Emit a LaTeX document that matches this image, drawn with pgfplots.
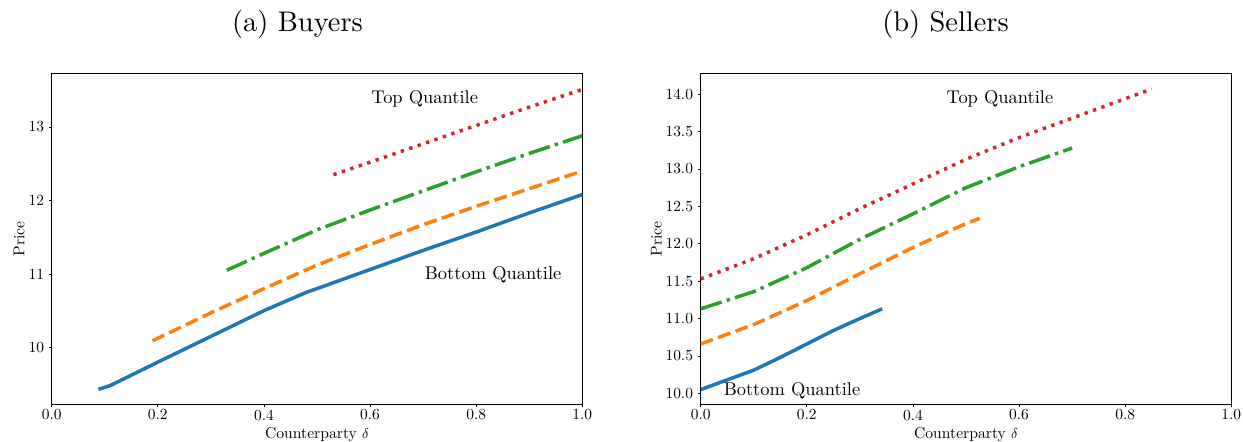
\documentclass[border=0pt]{standalone}
\DeclareFontFamily{TU}{lmrten}{}
\DeclareFontShape{TU}{lmrten}{m}{n}{<-> "[lmroman10-regular]:mapping=tex-text"}{}
\renewcommand{\rmdefault}{lmrten}
\usepackage{pgfplots}
\pgfplotsset{compat=1.18}
\definecolor{tabblue}{HTML}{1F77B4}
\definecolor{taborange}{HTML}{FF7F0E}
\definecolor{tabgreen}{HTML}{2CA02C}
\definecolor{tabred}{HTML}{D62728}
\newcommand{\tickfont}{\fontsize{15.5}{16}\selectfont}
\newcommand{\labfont}{\fontsize{15.7}{16}\selectfont}
\newcommand{\annfont}{\fontsize{18.5}{19}\selectfont}
\newcommand{\titlefont}{\fontsize{28.5}{30}\selectfont}
\pgfplotsset{
  mystyle/.style={
    scale only axis, width=530.6bp, height=330.7bp,
    anchor=south west,
    xmin=0, xmax=1, xtick={0,0.2,0.4,0.6,0.8,1},
    /pgf/number format/assume math mode=true,
    xticklabel style={/pgf/number format/fixed, /pgf/number format/fixed zerofill, /pgf/number format/precision=1},
    tick pos=left,
    tick align=outside, major tick length=2.5bp,
    axis line style={line width=1bp, black},
    tick style={line width=0.8bp, black},
    tick label style={font=\tickfont},
    label style={font=\labfont},
    xlabel={Counterparty $\delta$},
    ylabel={Price},
    xlabel style={at={(axis description cs:0.5,0)}, anchor=base, yshift=-34bp},
    xticklabel style={inner sep=0pt, anchor=north, yshift=-3bp},
    yticklabel style={inner sep=0pt, anchor=east, xshift=-5bp},
    every axis plot/.append style={no markers, line width=3.5bp, line join=round},
  },
  sol/.style={tabblue, solid},
  dsh/.style={taborange, dash pattern=on 13bp off 5.5bp},
  dd/.style={tabgreen, dash pattern=on 22bp off 5.3bp on 3.4bp off 5.3bp},
  dot/.style={tabred, dash pattern=on 3.4bp off 5.5bp, line cap=butt},
}
\begin{document}
\begin{tikzpicture}
\useasboundingbox (0,0) rectangle (1243bp,-442bp);
\node[anchor=base, font=\titlefont] at (297.5bp,-31.7bp) {(a) Buyers};
\node[anchor=base, font=\titlefont] at (945.5bp,-31.7bp) {(b) Sellers};
\begin{axis}[mystyle, at={(51.7bp,-404bp)},
  ymin=9.23, ymax=13.73, ytick={10,11,12,13},
  ylabel style={at={(axis description cs:0,0.5)}, anchor=center, yshift=32.7bp}]
\addplot[sol] coordinates {(0.088,9.43) (0.11,9.48) (0.2,9.80) (0.3,10.15) (0.4,10.50) (0.48,10.75) (0.5,10.80) (0.6,11.06) (0.7,11.32) (0.8,11.57) (0.9,11.83) (1.0,12.08)};
\addplot[dsh] coordinates {(0.19,10.09) (0.3,10.47) (0.4,10.80) (0.5,11.12) (0.6,11.40) (0.7,11.67) (0.8,11.92) (0.9,12.16) (1.0,12.40)};
\addplot[dd] coordinates {(0.33,11.05) (0.4,11.28) (0.5,11.60) (0.6,11.87) (0.7,12.13) (0.8,12.39) (0.9,12.64) (1.0,12.88)};
\addplot[dot] coordinates {(0.531,12.35) (0.6,12.52) (0.7,12.77) (0.8,13.02) (0.9,13.27) (1.0,13.51)};
\node[anchor=base, font=\annfont] at (axis cs:0.703,13.32) {Top Quantile};
\node[anchor=base, font=\annfont] at (axis cs:0.832,10.93) {Bottom Quantile};
\end{axis}
\begin{axis}[mystyle, at={(700.7bp,-404bp)},
  ymin=9.857, ymax=14.28, ytick={10,10.5,11,11.5,12,12.5,13,13.5,14},
  yticklabel style={/pgf/number format/fixed, /pgf/number format/fixed zerofill, /pgf/number format/precision=1},
  ylabel style={at={(axis description cs:0,0.5)}, anchor=center, yshift=44.4bp}]
\addplot[sol] coordinates {(0,10.05) (0.05,10.18) (0.1,10.31) (0.15,10.48) (0.2,10.66) (0.25,10.84) (0.3,11.00) (0.342,11.13)};
\addplot[dsh] coordinates {(0,10.66) (0.1,10.92) (0.2,11.24) (0.3,11.60) (0.4,11.95) (0.5,12.27) (0.526,12.34)};
\addplot[dd] coordinates {(0,11.13) (0.1,11.36) (0.2,11.68) (0.3,12.06) (0.4,12.40) (0.5,12.75) (0.6,13.03) (0.7,13.28)};
\addplot[dot] coordinates {(0,11.53) (0.1,11.80) (0.2,12.12) (0.3,12.47) (0.4,12.80) (0.5,13.13) (0.6,13.42) (0.7,13.68) (0.8,13.94) (0.85,14.07)};
\node[anchor=base, font=\annfont] at (axis cs:0.564,13.88) {Top Quantile};
\node[anchor=base, font=\annfont] at (axis cs:0.172,9.977) {Bottom Quantile};
\end{axis}
\end{tikzpicture}
\end{document}
